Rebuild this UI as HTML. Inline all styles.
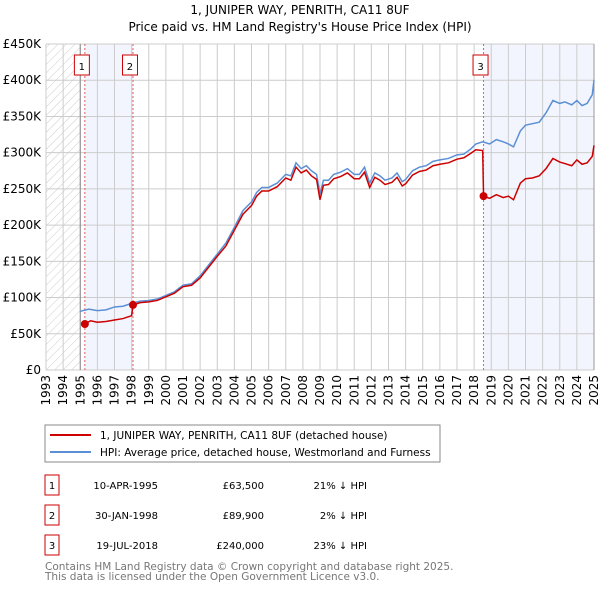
<!DOCTYPE html>
<html><head><meta charset="utf-8"><style>
body{margin:0;background:#fff;font-family:"DejaVu Sans","Liberation Sans",sans-serif;}
svg text{font-family:"DejaVu Sans","Liberation Sans",sans-serif;}
</style></head><body>
<svg id="chart" width="600" height="590" xmlns="http://www.w3.org/2000/svg">
<defs><pattern id="hatch" width="6" height="6" patternUnits="userSpaceOnUse" patternTransform="rotate(45)"><line x1="0" y1="0" x2="0" y2="6" stroke="#ccc" stroke-width="1"/></pattern></defs>
<text x="300" y="14" text-anchor="middle" font-size="12">1, JUNIPER WAY, PENRITH, CA11 8UF</text>
<text x="300" y="31" text-anchor="middle" font-size="12">Price paid vs. HM Land Registry's House Price Index (HPI)</text>
<g id="plot"></g>
<g>
<rect x="45" y="425" width="395" height="37" fill="#fff" stroke="#888"/>
<line x1="50" y1="435" x2="91" y2="435" stroke="#cc0000" stroke-width="2"/>
<text x="100" y="439" font-size="10.5">1, JUNIPER WAY, PENRITH, CA11 8UF (detached house)</text>
<line x1="50" y1="452" x2="91" y2="452" stroke="#5b8fd6" stroke-width="2"/>
<text x="100" y="456" font-size="10.5">HPI: Average price, detached house, Westmorland and Furness</text>
</g>
<g id="table" font-size="10"></g>
<text x="45" y="570" font-size="10.5" fill="#777">Contains HM Land Registry data © Crown copyright and database right 2025.</text>
<text x="45" y="580" font-size="10.5" fill="#777">This data is licensed under the Open Government Licence v3.0.</text>
</svg>
<script>
const yTicks=[0,50000,100000,150000,200000,250000,300000,350000,400000,450000];
const yTickLabels=["£0","£50K","£100K","£150K","£200K","£250K","£300K","£350K","£400K","£450K"];
const years=[1993,1994,1995,1996,1997,1998,1999,2000,2001,2002,2003,2004,2005,2006,2007,2008,2009,2010,2011,2012,2013,2014,2015,2016,2017,2018,2019,2020,2021,2022,2023,2024,2025];
const hpiT=[1995.0,1995.5,1996.0,1996.5,1997.0,1997.5,1998.0,1998.5,1999.0,1999.5,2000.0,2000.5,2001.0,2001.5,2002.0,2002.5,2003.0,2003.5,2004.0,2004.5,2005.0,2005.3,2005.6,2006.0,2006.5,2007.0,2007.3,2007.6,2007.9,2008.2,2008.5,2008.8,2009.0,2009.2,2009.5,2009.8,2010.2,2010.6,2011.0,2011.3,2011.6,2011.9,2012.2,2012.5,2012.8,2013.2,2013.5,2013.8,2014.0,2014.4,2014.8,2015.2,2015.6,2016.0,2016.5,2017.0,2017.4,2017.8,2018.1,2018.5,2018.9,2019.3,2019.7,2020.0,2020.3,2020.7,2021.0,2021.4,2021.8,2022.2,2022.6,2023.0,2023.3,2023.7,2024.0,2024.3,2024.6,2024.9,2025.0];
const hpiV=[81000,84000,82000,83000,87000,88000,92000,95000,96000,98000,103000,108000,117000,119000,130000,145000,160000,175000,197000,220000,232000,245000,252000,252000,258000,270000,268000,286000,278000,282000,275000,270000,243000,262000,262000,270000,273000,278000,270000,270000,280000,258000,272000,268000,262000,265000,272000,260000,263000,275000,280000,282000,288000,290000,292000,297000,298000,305000,312000,315000,312000,318000,315000,312000,308000,330000,338000,340000,342000,355000,372000,368000,370000,366000,372000,365000,368000,380000,400000];
const redT=[1995.27,1995.6,1996.0,1996.5,1997.0,1997.5,1998.0,1998.08,1998.5,1999.0,1999.5,2000.0,2000.5,2001.0,2001.5,2002.0,2002.5,2003.0,2003.5,2004.0,2004.5,2005.0,2005.3,2005.6,2006.0,2006.5,2007.0,2007.3,2007.6,2007.9,2008.2,2008.5,2008.8,2009.0,2009.2,2009.5,2009.8,2010.2,2010.6,2011.0,2011.3,2011.6,2011.9,2012.2,2012.5,2012.8,2013.2,2013.5,2013.8,2014.0,2014.4,2014.8,2015.2,2015.6,2016.0,2016.5,2017.0,2017.4,2017.8,2018.1,2018.5,2018.55,2018.9,2019.3,2019.7,2020.0,2020.3,2020.7,2021.0,2021.4,2021.8,2022.2,2022.6,2023.0,2023.3,2023.7,2024.0,2024.3,2024.6,2024.9,2025.0];
const redV=[63500,68000,66000,67000,69000,71000,75000,89900,93000,94000,96000,101000,106000,115000,117000,127000,142000,157000,171000,193000,215000,227000,240000,247000,247000,253000,265000,262000,280000,272000,276000,268000,263000,235000,255000,256000,264000,267000,272000,264000,264000,273000,252000,266000,262000,256000,259000,266000,254000,257000,269000,274000,276000,282000,284000,286000,291000,293000,299000,304000,303000,240000,237000,242000,238000,240000,235000,258000,264000,265000,268000,278000,292000,287000,285000,282000,290000,284000,286000,295000,310000];
const saleT=[1995.27,1998.08,2018.55];
const saleV=[63500,89900,240000];
const saleLabels=["1","2","3"];
const saleDates=["10-APR-1995","30-JAN-1998","19-JUL-2018"];
const salePrices=["£63,500","£89,900","£240,000"];
const saleDiffs=["21% ↓ HPI","2% ↓ HPI","23% ↓ HPI"];

const L=46,R=594,T=44,B=370;
const x=t=>L+(t-1993)/(2025-1993)*(R-L);
const y=v=>B-v/450000*(B-T);
const NS="http://www.w3.org/2000/svg";
const plot=document.getElementById('plot');
function mk(tag,attrs,parent){const e=document.createElementNS(NS,tag);for(const k in attrs)e.setAttribute(k,attrs[k]);(parent||plot).appendChild(e);return e;}

let e;
e=mk('rect',{x:L,y:T,width:x(1995)-L,height:B-T,fill:'url(#hatch)'});


e=mk('rect',{x:x(saleT[0]),y:T,width:x(saleT[1])-x(saleT[0]),height:B-T,fill:'#f2f5fd'});


e=mk('rect',{x:x(saleT[2]),y:T,width:R-x(saleT[2]),height:B-T,fill:'#f2f5fd'});



yTicks.forEach((v,i)=>{
 e=mk('line',{x1:L,x2:R,y1:y(v),y2:y(v),stroke:'#ccc'});
 
 
 e=mk('text',{x:L-5,y:y(v)+4,'text-anchor':'end','font-size':'12'});e.textContent=yTickLabels[i];
 
 
});
years.forEach(yr=>{
 e=mk('line',{x1:x(yr),x2:x(yr),y1:T,y2:B,stroke:'#ccc'});
 
 
 e=mk('text',{x:0,y:0,'text-anchor':'end','font-size':'12',transform:`translate(${x(yr)+4},${B+5}) rotate(-90)`});e.textContent=yr;
 
 
});
e=mk('line',{x1:x(1995),x2:x(1995),y1:T,y2:B,stroke:'#888'});


e=mk('line',{x1:R,x2:R,y1:T,y2:B,stroke:'#999'});



saleT.forEach((t,i)=>{
 e=mk('line',{x1:x(t),x2:x(t),y1:T,y2:B,stroke:'#e06060','stroke-dasharray':'2,2'});
 
 
 const bx=x(t)-10.5;
 e=mk('rect',{x:bx,y:T+11,width:15,height:20,fill:'#fff',stroke:'#c00'});
 
 
 e=mk('text',{x:bx+7.5,y:T+26,'text-anchor':'middle','font-size':'10'});e.textContent=saleLabels[i];
 
 
});

e=mk('polyline',{points:hpiT.map((t,i)=>x(t)+','+y(hpiV[i])).join(' '),fill:'none',stroke:'#5b8fd6','stroke-width':1.5});


e=mk('polyline',{points:redT.map((t,i)=>x(t)+','+y(redV[i])).join(' '),fill:'none',stroke:'#cc0000','stroke-width':1.5});


saleT.forEach((t,i)=>{
 e=mk('circle',{cx:x(t),cy:y(saleV[i]),r:4,fill:'#cc0000'});
 
 
});

const tb=document.getElementById('table');
saleLabels.forEach((l,i)=>{
 const cy=485+i*30;
 e=mk('rect',{x:45,y:cy-10,width:14,height:20,fill:'#fff',stroke:'#c00'},tb);
 
 
 e=mk('text',{x:52,y:cy+4,'text-anchor':'middle'},tb);e.textContent=l;
 
 
 e=mk('text',{x:158,y:cy+4,'text-anchor':'end'},tb);e.textContent=saleDates[i];
 
 
 e=mk('text',{x:264,y:cy+4,'text-anchor':'end'},tb);e.textContent=salePrices[i];
 
 
 e=mk('text',{x:367,y:cy+4,'text-anchor':'end'},tb);e.textContent=saleDiffs[i];
 
 
});
</script>
</body></html>
